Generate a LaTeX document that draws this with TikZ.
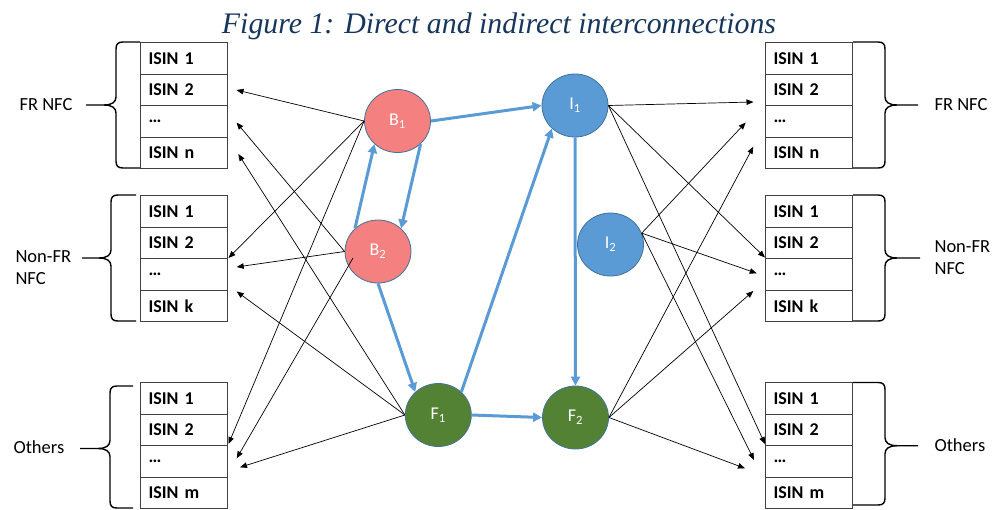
\documentclass[tikz,border=0pt]{standalone}
\usepackage{graphicx}
\usepackage{fontspec}
\setmainfont{Carlito}
\newfontfamily\titlefont{Liberation Serif}
\usetikzlibrary{arrows.meta,shapes.geometric}
\definecolor{bfill}{HTML}{F4807F}
\definecolor{ifill}{HTML}{5B9BD5}
\definecolor{ffill}{HTML}{548235}
\definecolor{outl}{HTML}{41719C}
\definecolor{flow}{HTML}{5B9BD5}
\definecolor{titlec}{HTML}{17365D}
\definecolor{cellline}{HTML}{404040}
\newcommand\leftbrc[6]{%
 \draw[brc] (#5,#2) -- (#1+7,#2) .. controls (#1+2,#2) and (#1,#2+2) .. (#1,#2+7) -- (#1,#4-8) .. controls (#1,#4-3) and (#1-4,#4) .. (#1-12,#4) -- (#6,#4);
 \draw[brc] (#1-12,#4) .. controls (#1-4,#4) and (#1,#4+3) .. (#1,#4+8) -- (#1,#3-7) .. controls (#1,#3-2) and (#1+2,#3) .. (#1+7,#3) -- (#5,#3);}
\newcommand\rightbrc[6]{%
 \draw[brc] (#5,#2) -- (#1-7,#2) .. controls (#1-2,#2) and (#1,#2+2) .. (#1,#2+7) -- (#1,#4-8) .. controls (#1,#4-3) and (#1+4,#4) .. (#1+12,#4) -- (#6,#4);
 \draw[brc] (#1+12,#4) .. controls (#1+4,#4) and (#1,#4+3) .. (#1,#4+8) -- (#1,#3-7) .. controls (#1,#3-2) and (#1-2,#3) .. (#1-7,#3) -- (#5,#3);}
\begin{document}
\begin{tikzpicture}[x=1pt,y=-1pt,
 cell/.style={draw=cellline, line width=1.2pt, minimum width=87pt, minimum height=31.5pt, text width=71pt, inner xsep=8pt, inner ysep=0pt, align=left, anchor=north west, font=\fontsize{18}{20}\selectfont\bfseries},
 circ/.style={ellipse, draw=outl, line width=0.8pt, minimum width=66pt, minimum height=63pt, inner sep=0pt, text=white, font=\fontsize{18}{20}\selectfont},
 bnode/.style={circ, fill=bfill},
 inode/.style={circ, fill=ifill},
 fnode/.style={circ, fill=ffill},
 grp/.style={anchor=west, align=left, font=\fontsize{18.5}{22}\selectfont},
 brc/.style={draw=black, line width=1.4pt},
 thin/.style={draw=black, line width=0.7pt, -{Triangle[length=7pt,width=5.5pt]}},
 flowarr/.style={draw=flow, line width=3pt, -{Triangle[length=9pt,width=9pt]}}
]
\useasboundingbox (0,0) rectangle (992,509);

% title
\node[anchor=base, text=titlec, inner sep=0pt] (title) at (499,33)
 {\resizebox{554pt}{!}{\titlefont\itshape Figure 1: Direct and indirect interconnections}};

% left tables
\node[cell] (L1a) at (140,42) {ISIN 1};
\node[cell] (L1b) at (140,73.5) {ISIN 2};
\node[cell] (L1c) at (140,105) {…};
\node[cell] (L1d) at (140,136.5) {ISIN n};
\node[cell] (L2a) at (140,195) {ISIN 1};
\node[cell] (L2b) at (140,226.5) {ISIN 2};
\node[cell] (L2c) at (140,258) {…};
\node[cell] (L2d) at (140,289.5) {ISIN k};
\node[cell] (L3a) at (140,382) {ISIN 1};
\node[cell] (L3b) at (140,413.5) {ISIN 2};
\node[cell] (L3c) at (140,445) {…};
\node[cell] (L3d) at (140,476.5) {ISIN m};
% right tables
\node[cell] (R1a) at (765,42) {ISIN 1};
\node[cell] (R1b) at (765,73.5) {ISIN 2};
\node[cell] (R1c) at (765,105) {…};
\node[cell] (R1d) at (765,136.5) {ISIN n};
\node[cell] (R2a) at (765,195) {ISIN 1};
\node[cell] (R2b) at (765,226.5) {ISIN 2};
\node[cell] (R2c) at (765,258) {…};
\node[cell] (R2d) at (765,289.5) {ISIN k};
\node[cell] (R3a) at (765,382) {ISIN 1};
\node[cell] (R3b) at (765,413.5) {ISIN 2};
\node[cell] (R3c) at (765,445) {…};
\node[cell] (R3d) at (765,476.5) {ISIN m};

% braces
\leftbrc{116}{42}{168}{105}{140}{86}
\leftbrc{111}{195}{321}{258}{136}{82}
\leftbrc{110}{386}{508}{448.5}{133}{80}
\rightbrc{885}{42}{168}{105}{853}{918}
\rightbrc{885}{195}{321}{258}{853}{920}
\rightbrc{885}{382.5}{505}{445.7}{853}{918}

% group labels
\node[grp] (gL1) at (16,105) {FR NFC};
\node[grp] (gL2) at (12,268) {Non-FR\\NFC};
\node[grp] (gL3) at (10,447) {Others};
\node[grp] (gR1) at (931,105) {FR NFC};
\node[grp] (gR2) at (931,258) {Non-FR\\NFC};
\node[grp] (gR3) at (931,445) {Others};

% circles
\node[bnode] (B1) at (397.5,121) {B\textsubscript{1}};
\node[bnode] (B2) at (378,251.5) {B\textsubscript{2}};
\node[fnode] (F1) at (438.3,415) {F\textsubscript{1}};
\node[inode] (I1) at (575,105.5) {I\textsubscript{1}};
\node[inode] (I2) at (610.5,244.5) {I\textsubscript{2}};
\node[fnode] (F2) at (575.5,417.5) {F\textsubscript{2}};

% arrow target points
\coordinate (tA1) at (236.5,90);
\coordinate (tA2) at (236.5,122.5);
\coordinate (tA3) at (238.3,154);
\coordinate (tB1) at (228.5,258);
\coordinate (tB2) at (236.7,267);
\coordinate (tB3) at (236.7,291.5);
\coordinate (tC1) at (228.5,444);
\coordinate (tC2) at (236.7,458.3);
\coordinate (tC3) at (240,467.3);
\coordinate (rA1) at (753.5,102);
\coordinate (rA2) at (745.7,122.5);
\coordinate (rA3) at (753.3,146.7);
\coordinate (rB1) at (765,257.5);
\coordinate (rB2) at (756.7,273.3);
\coordinate (rB3) at (753.3,291);
\coordinate (rC1) at (765,444);
\coordinate (rC2) at (754,460);
\coordinate (rC3) at (745,468.3);
\coordinate (B2in) at (353,258);

% thin arrows
\draw[thin] (B1.west) -- (tA1);
\draw[thin] (B1.west) -- (tB1);
\draw[thin] (B1.west) -- (tC1);
\draw[thin] (B2.west) -- (tA2);
\draw[thin] (B2.west) -- (tB2);
\draw[thin] (B2in) -- (tC2);
\draw[thin] (F1.west) -- (tA3);
\draw[thin] (F1.west) -- (tB3);
\draw[thin] (F1.west) -- (tC3);
\draw[thin] (I1.east) -- (rA1);
\draw[thin] (I1.east) -- (rB1);
\draw[thin] (I1.east) -- (rC1);
\draw[thin] (I2.20) -- (rA2);
\draw[thin] (I2.20) -- (rB2);
\draw[thin] (I2.20) -- (rC2);
\draw[thin] (F2.east) -- (rA3);
\draw[thin] (F2.east) -- (rB3);
\draw[thin] (F2.east) -- (rC3);

% blue flow arrows
\draw[flowarr] (B1.east) -- (I1.west);
\draw[flowarr] (B2.135) -- (B1.225);
\draw[flowarr] (B1.315) -- (B2.45);
\draw[flowarr] (B2.south) -- (F1.135);
\draw[flowarr] (F1.45) -- (I1.225);
\draw[flowarr] (I1.south) -- (F2.north);
\draw[flowarr] (F1.east) -- (F2.west);
\end{tikzpicture}
\end{document}
